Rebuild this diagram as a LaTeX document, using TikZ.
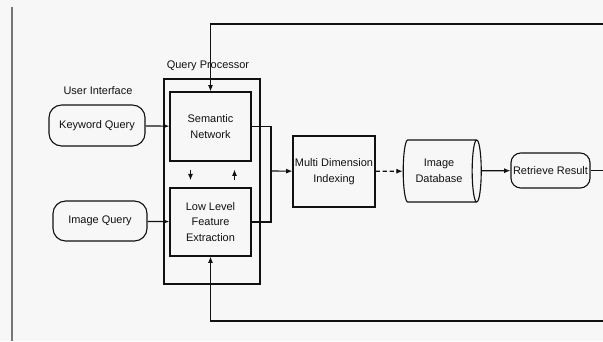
\documentclass[tikz,border=0pt]{standalone}
\usepackage{fontspec}
\setmainfont{Liberation Sans}
\usetikzlibrary{arrows.meta, shapes.geometric}
\definecolor{paper}{HTML}{F7F7F7}
\definecolor{ink}{HTML}{111111}
\definecolor{rule-gray}{HTML}{777777}

\begin{document}
\begin{tikzpicture}[x=0.025cm, y=-0.025cm,
    every node/.style={font=\fontsize{7.8}{11}\selectfont, text=ink},
    box/.style={draw=ink, line width=0.8pt, fill=paper, align=center, inner sep=1pt},
    term/.style={box, rounded corners=7pt},
    arr/.style={-{Latex[length=4.5pt, width=3.6pt]}, line width=0.8pt, draw=ink},
    wire/.style={line width=0.8pt, draw=ink}]
    \fill[paper] (0,0) rectangle (603,341);
    \useasboundingbox (0,0) rectangle (603,341);
    \draw[rule-gray, line width=0.8pt] (12,7) -- (12,341);
    % query processor frame
    \node[draw=ink, line width=0.8pt, minimum width=2.4cm, minimum height=5.125cm]
      (qp) at (212,181.5) {};
    \node[anchor=south] (qplabel) at (208,76) {Query Processor};
    \node[box, minimum width=2.025cm, minimum height=1.725cm] (sem) at (210.5,126.5)
      {Semantic\\Network};
    \node[box, minimum width=2.025cm, minimum height=1.7cm] (llf) at (210.5,222)
      {Low Level\\Feature\\Extraction};
    % user interface
    \node (uilabel) at (98,91) {User Interface};
    \node[term, rounded corners=9pt, minimum width=2.4cm, minimum height=1.025cm]
      (kq) at (97,125.5) {Keyword Query};
    \node[term, rounded corners=9pt, minimum width=2.35cm, minimum height=1.0cm]
      (iq) at (100,221) {Image Query};
    % indexing and storage
    \node[box, minimum width=2.05cm, minimum height=1.775cm] (mdi) at (334,171.5)
      {Multi Dimension\\Indexing};
    \node[box, cylinder, shape aspect=0.35, minimum width=1.55cm, minimum height=1.95cm,
      shape border rotate=0] (db) at (439,171) {Image\\Database};
    \node[term, minimum width=1.975cm, minimum height=0.875cm] (rr) at (550.5,170.5)
      {Retrieve Result};
    \coordinate (merge) at (271,171);
    \coordinate (topR) at (603,24);
    \coordinate (botR) at (603,321);
    \coordinate (outR) at (603,170.5);
    \draw[arr] (kq) -- (sem);
    \draw[arr] (iq) -- (llf);
    \draw[arr, shorten <=0.2cm, shorten >=0.18cm] ([xshift=-0.5cm]sem.south)
      -- ([xshift=-0.5cm]llf.north);
    \draw[arr, shorten <=0.18cm, shorten >=0.2cm] ([xshift=0.6cm]llf.north)
      -- ([xshift=0.6cm]sem.south);
    \draw[wire] (sem.east) -| (merge) |- (llf.east);
    \draw[arr] (merge) -- (mdi);
    \draw[arr, densely dashed] (mdi) -- (db);
    \draw[arr] (db) -- (rr);
    \draw[wire] (rr) -- (outR);
    \draw[arr] (topR) -| (sem.north);
    \draw[arr] (botR) -| (llf.south);
  \end{tikzpicture}
\end{document}
